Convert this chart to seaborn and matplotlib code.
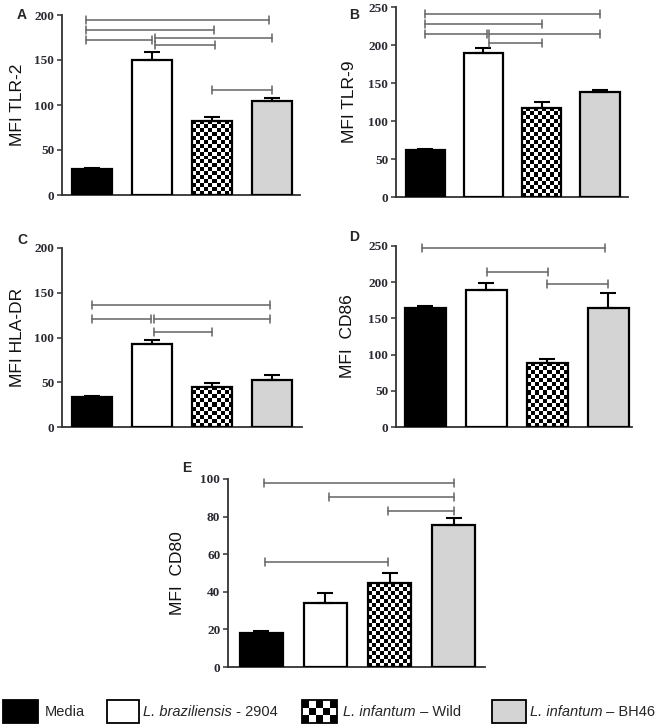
import numpy as np
import matplotlib
matplotlib.use('Agg')
import matplotlib.pyplot as plt
import seaborn as sns
from matplotlib.patches import Rectangle

sns.set_theme(style='white')
plt.rcParams['font.family'] = ['Liberation Sans', 'DejaVu Sans']

# groups and bar colours
groups = ['Media', 'L. braziliensis - 2904', 'L. infantum - Wild', 'L. infantum - BH46']
colors = ['black', 'white', 'white', '#d4d4d4']

# mean +/- SEM
tlr2 = [28.5, 149.5, 82.5, 104.5]
tlr2_err = [1.2, 9.2, 4.1, 2.9]
tlr9 = [62, 189, 117.5, 137.7]
tlr9_err = [1.6, 7.5, 7.5, 3.5]
hladr = [33.5, 93, 44.7, 52.9]
hladr_err = [1.1, 4.6, 4.1, 4.8]
cd86 = [165, 188.7, 88.6, 163.7]
cd86_err = [2, 9.6, 5.4, 21.7]
cd80 = [18.1, 33.9, 44.5, 75.4]
cd80_err = [1.2, 5.5, 5.5, 4.0]

# significance brackets: (from bar, to bar, height)
tlr2_sig = [(-0.1, 2.95, 194), (-0.1, 2.03, 183), (-0.1, 1.0, 171.7),
            (1.05, 3.0, 174.3), (1.05, 2.06, 167), (2.0, 3.0, 117)]
tlr9_sig = [(0, 3.0, 240.4), (0, 2.0, 227.6), (0, 1.06, 214.5),
            (1.1, 3.0, 214.5), (1.1, 2.0, 202)]
hladr_sig = [(0, 2.96, 136.3), (0, 0.99, 120.7), (1.03, 2.96, 120.7), (1.03, 2.0, 105.8)]
cd86_sig = [(-0.06, 2.95, 247.7), (1.01, 2.02, 214), (2.0, 3.0, 197.9)]
cd80_sig = [(0.04, 3.0, 97.9), (1.05, 3.0, 90.6), (1.97, 3.0, 83.2), (0.05, 1.98, 56)]

W, H = 660, 728
fig = plt.figure(figsize=(W / 100, H / 100), dpi=100)


def checker(ax, x0, x1, y0, y1, size, zorder, clip=None):
    p0 = ax.transData.transform((x0, y0))
    p1 = ax.transData.transform((x1, y1))
    nc = max(1, int(round((p1[0] - p0[0]) / size)))
    nr = max(1, int(round((p1[1] - p0[1]) / size)))
    arr = np.indices((nr, nc)).sum(axis=0) % 2
    im = ax.imshow(arr, cmap='gray', vmin=0, vmax=1, extent=(x0, x1, y0, y1),
                   origin='lower', interpolation='nearest', aspect='auto', zorder=zorder)
    if clip is not None:
        im.set_clip_path(clip)
    return im


def draw_panel(box, xlim, values, errs, ymax, ystep, ylabel, letter, sig, label_x, letter_xy):
    left, right, top, bottom = box
    ax = fig.add_axes([left / W, 1 - bottom / H, (right - left) / W, (bottom - top) / H])
    sns.barplot(x=groups, y=values, hue=groups, palette=colors, legend=False,
                edgecolor='black', linewidth=1.6, width=0.67, errorbar=None, ax=ax)
    ax.set_xlim(*xlim)
    ax.set_ylim(0, ymax)
    ax.set_yticks(np.arange(0, ymax + 1, ystep))
    ax.set_xticks([])
    ax.set_xlabel('')
    for s in ['top', 'right']:
        ax.spines[s].set_visible(False)
    for s in ['left', 'bottom']:
        ax.spines[s].set_color('#333333')
        ax.spines[s].set_linewidth(1.3)
    ax.tick_params(axis='y', left=True, direction='out', length=3.5, width=1.1,
                   color='#333333', pad=2)
    for lab in ax.get_yticklabels():
        lab.set_fontfamily('Liberation Serif')
        lab.set_fontweight('bold')
        lab.set_fontsize(9.5)
        lab.set_color('#2a2a33')
    ax.set_ylabel(ylabel, fontsize=12.5, color='#111111')
    ax.yaxis.set_label_coords((label_x - left) / (right - left), 0.5)

    bars = sorted(ax.patches, key=lambda p: p.get_x())
    for b in bars:
        b.set_zorder(3)
    bars[2].set_facecolor('none')
    b = bars[2]
    checker(ax, b.get_x(), b.get_x() + b.get_width(), 0, b.get_height(), 4, 2, clip=b)

    ax.errorbar(range(len(values)), values, yerr=[[0] * len(errs), errs], fmt='none',
                ecolor='black', elinewidth=1.5, capsize=6, capthick=1.5, zorder=4)

    # brackets
    px_per_unit = ax.transData.transform((0, 1))[1] - ax.transData.transform((0, 0))[1]
    d = 4 / px_per_unit
    for x1, x2, y in sig:
        ax.plot([x1, x2], [y, y], color='#636363', lw=1.1, zorder=5, clip_on=False)
        for x in (x1, x2):
            ax.plot([x, x], [y - d, y + d], color='#636363', lw=1.1, zorder=5, clip_on=False)

    fig.text(letter_xy[0] / W, 1 - letter_xy[1] / H, letter, fontsize=10,
             fontweight='bold', ha='left', va='center')
    return ax


draw_panel((62, 300, 15, 195), (-0.5, 3.47), tlr2, tlr2_err, 200, 50,
           'MFI TLR-2', 'A', tlr2_sig, 25, (17, 15))
draw_panel((396, 628, 7, 197), (-0.5, 3.48), tlr9, tlr9_err, 250, 50,
           'MFI TLR-9', 'B', tlr9_sig, 357, (349, 15))
draw_panel((62, 302, 248, 427), (-0.5, 3.5), hladr, hladr_err, 200, 50,
           'MFI HLA-DR', 'C', hladr_sig, 25, (17, 240))
draw_panel((396, 632, 246, 427), (-0.48, 3.39), cd86, cd86_err, 250, 50,
           'MFI  CD86', 'D', cd86_sig, 355, (349, 237))
draw_panel((228, 485, 479, 667), (-0.52, 3.49), cd80, cd80_err, 100, 20,
           'MFI  CD80', 'E', cd80_sig, 185, (182, 468))

# legend strip
lax = fig.add_axes([0, 0, 1, 40 / H])
lax.set_xlim(0, W)
lax.set_ylim(0, 40)
lax.axis('off')
box_x = [3, 107, 302, 492]
box_w = [35, 32, 35, 34]
for i in range(4):
    fc = 'none' if i == 2 else colors[i]
    lax.add_patch(Rectangle((box_x[i], 5), box_w[i], 23, facecolor=fc,
                            edgecolor='black', lw=1.3, zorder=3))
checker(lax, box_x[2], box_x[2] + box_w[2], 5, 28, 7.5, 2)

fs = 10.5
lax.text(45, 16.5, 'Media', fontsize=fs, va='center', ha='left')
t1 = lax.text(143, 16.5, 'L. braziliensis', fontsize=fs, style='italic', va='center', ha='left')
lax.annotate(' - 2904', xy=(1, 0), xycoords=t1, fontsize=fs, va='bottom', ha='left')
t2 = lax.text(343, 16.5, 'L. infantum', fontsize=fs, style='italic', va='center', ha='left')
lax.annotate(' \u2013 Wild', xy=(1, 0), xycoords=t2, fontsize=fs, va='bottom', ha='left')
t3 = lax.text(530, 16.5, 'L. infantum', fontsize=fs, style='italic', va='center', ha='left')
lax.annotate(' \u2013 BH46', xy=(1, 0), xycoords=t3, fontsize=fs, va='bottom', ha='left')

fig.savefig('out.png', dpi=100)
